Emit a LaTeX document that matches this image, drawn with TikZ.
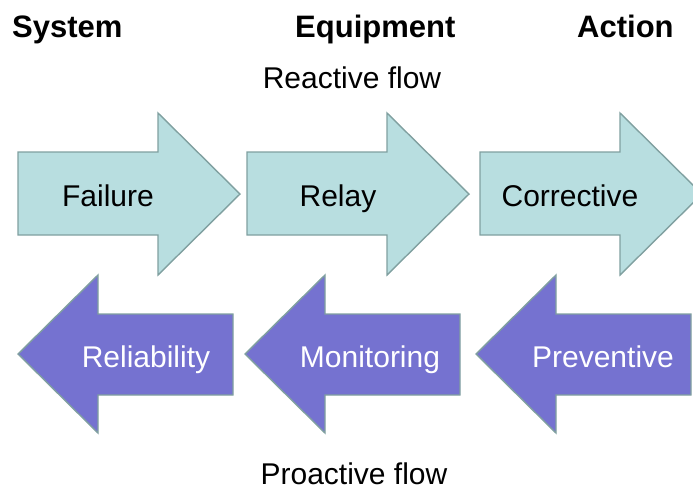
\documentclass[tikz,border=0pt]{standalone}
\usepackage{fontspec}
\setmainfont{Liberation Sans}
\definecolor{cyanfill}{RGB}{184,222,224}
\definecolor{purplefill}{RGB}{117,114,208}
\definecolor{arrowedge}{RGB}{128,160,160}
\tikzset{
  rarrow/.style={fill=cyanfill, draw=arrowedge, line width=1.4pt, line join=miter},
  larrow/.style={fill=purplefill, draw=arrowedge, line width=1.4pt, line join=miter},
  hdr/.style={font=\fontsize{31}{36}\selectfont\bfseries, anchor=base west, inner sep=0pt},
  flowtxt/.style={font=\fontsize{30}{36}\selectfont, anchor=base, inner sep=0pt},
  toplbl/.style={font=\fontsize{30}{36}\selectfont, anchor=base, inner sep=0pt, text=black},
  botlbl/.style={font=\fontsize{30}{36}\selectfont, anchor=base, inner sep=0pt, text=white}
}
\begin{document}
\begin{tikzpicture}[x=1pt,y=-1pt]
\useasboundingbox (0,0) rectangle (693,491);
\begin{scope}
\clip (0,0) rectangle (693,491);
% top row: right-pointing arrows
\foreach \l in {18,247,480} {
  \draw[rarrow] (\l,152) -- ({\l+140},152) -- ({\l+140},113) -- ({\l+222},194)
    -- ({\l+140},275) -- ({\l+140},235) -- (\l,235) -- cycle;
}
% bottom row: left-pointing arrows
\foreach \t in {18,245,476} {
  \draw[larrow] (\t,354) -- ({\t+80},275) -- ({\t+80},314) -- ({\t+215},314)
    -- ({\t+215},395) -- ({\t+80},395) -- ({\t+80},433) -- cycle;
}
\end{scope}
% headers
\node[hdr] (sys) at (12,37) {System};
\node[hdr] (equ) at (295,37) {Equipment};
\node[hdr] (act) at (577,37) {Action};
\node[flowtxt] (reac) at (352,88) {Reactive flow};
\node[flowtxt] (proa) at (354,484) {Proactive flow};
% labels
\node[toplbl] (fail) at (108,206) {Failure};
\node[toplbl] (relay) at (338,206) {Relay};
\node[toplbl] (corr) at (570,206) {Corrective};
\node[botlbl] (rel) at (146,367) {Reliability};
\node[botlbl] (mon) at (370,367) {Monitoring};
\node[botlbl] (prev) at (603,367) {Preventive};
\end{tikzpicture}
\end{document}
